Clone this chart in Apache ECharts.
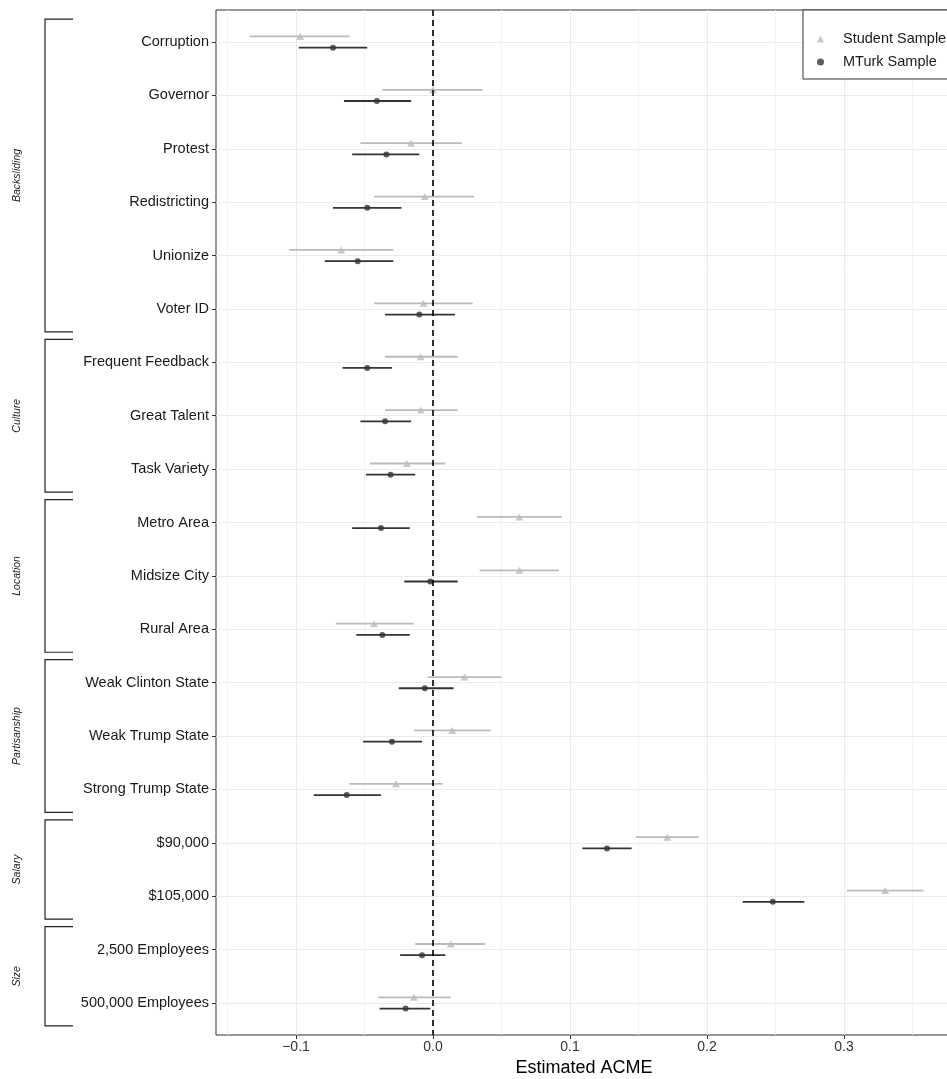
<!DOCTYPE html>
<html>
<head>
<meta charset="utf-8">
<title>Estimated ACME</title>
<script src="https://cdn.jsdelivr.net/npm/echarts@6/dist/echarts.min.js"></script>
<style>
html, body { margin: 0; padding: 0; background: #fff; }
#main { width: 947px; height: 1079px; }
</style>
</head>
<body>
<div id="main"></div>
<script>
// rows, top to bottom
var categories = ['Corruption', 'Governor', 'Protest', 'Redistricting', 'Unionize', 'Voter ID',
	'Frequent Feedback', 'Great Talent', 'Task Variety',
	'Metro Area', 'Midsize City', 'Rural Area',
	'Weak Clinton State', 'Weak Trump State', 'Strong Trump State',
	'$90,000', '$105,000',
	'2,500 Employees', '500,000 Employees'];

// student sample (triangles)
var studentEst = [-0.097, -0.000, -0.016, -0.006, -0.067, -0.007, -0.009, -0.009, -0.019, 0.063, 0.063, -0.043, 0.023, 0.014, -0.027, 0.171, 0.330, 0.013, -0.014];
var studentLo  = [-0.134, -0.037, -0.053, -0.043, -0.105, -0.043, -0.035, -0.035, -0.046, 0.032, 0.034, -0.071, -0.004, -0.014, -0.061, 0.148, 0.302, -0.013, -0.040];
var studentHi  = [-0.061, 0.036, 0.021, 0.030, -0.029, 0.029, 0.018, 0.018, 0.009, 0.094, 0.092, -0.014, 0.050, 0.042, 0.007, 0.194, 0.358, 0.038, 0.013];

// mturk sample (dots)
var mturkEst = [-0.073, -0.041, -0.034, -0.048, -0.055, -0.010, -0.048, -0.035, -0.031, -0.038, -0.002, -0.037, -0.006, -0.030, -0.063, 0.127, 0.248, -0.008, -0.020];
var mturkLo  = [-0.098, -0.065, -0.059, -0.073, -0.079, -0.035, -0.066, -0.053, -0.049, -0.059, -0.021, -0.056, -0.025, -0.051, -0.087, 0.109, 0.226, -0.024, -0.039];
var mturkHi  = [-0.048, -0.016, -0.010, -0.023, -0.029, 0.016, -0.030, -0.016, -0.013, -0.017, 0.018, -0.017, 0.015, -0.008, -0.038, 0.145, 0.271, 0.009, -0.002];

// attribute groups (bracket on the left)
var groupNames = ['Backsliding', 'Culture', 'Location', 'Partisanship', 'Salary', 'Size'];
var groupFirst = [0, 6, 9, 12, 15, 17];
var groupLast  = [5, 8, 11, 14, 16, 18];

var xTicks = [-0.1, 0, 0.1, 0.2, 0.3];
var xMin = -0.1584, xMax = 0.3788;

var fontFam = '"Liberation Sans", Arial, Helvetica, sans-serif';
var studentColor = '#BBBBBB';
var mturkColor = '#333333';
var dodge = 0.105;

var rowIdx = categories.map(function (c, i) { return i; });

var buildCI = function (lo, hi) {
	return rowIdx.map(function (i) { return [i, lo[i], hi[i]]; });
};
var buildPts = function (est, off) {
	return rowIdx.map(function (i) { return [est[i], i + off]; });
};

var ciRender = function (off, color) {
	return function (params, api) {
		var y = api.value(0) + off;
		var p1 = api.coord([api.value(1), y]);
		var p2 = api.coord([api.value(2), y]);
		return {
			type: 'line',
			shape: { x1: p1[0], y1: p1[1], x2: p2[0], y2: p2[1] },
			style: { stroke: color, lineWidth: 1.8 }
		};
	};
};

var chart = echarts.init(document.getElementById('main'));
chart.setOption({
	animation: false,
	backgroundColor: '#fff',
	textStyle: { fontFamily: fontFam },
	grid: {
		left: 216, top: 10, right: -5, bottom: 44,
		show: true, borderColor: '#333', borderWidth: 1,
		containLabel: false, outerBoundsMode: 'none'
	},
	legend: {
		orient: 'vertical', left: 803, top: 10,
		padding: [21, 70, 9, 14],
		backgroundColor: '#fff', borderColor: '#333', borderWidth: 1, borderRadius: 0,
		itemWidth: 7, itemHeight: 7, itemGap: 7,
		textStyle: { fontSize: 14.5, lineHeight: 16, color: '#1a1a1a', fontFamily: fontFam, padding: [0, 0, 0, 14] },
		data: [
			{ name: 'Student Sample', icon: 'triangle', itemStyle: { color: studentColor } },
			{ name: 'MTurk Sample', icon: 'circle', itemStyle: { color: mturkColor } }
		]
	},
	xAxis: {
		type: 'value', min: xMin, max: xMax, minInterval: 0.1, maxInterval: 0.1,
		name: 'Estimated ACME', nameLocation: 'middle', nameGap: 20,
		nameTextStyle: { fontSize: 18, color: '#000', fontFamily: fontFam },
		axisLine: { show: false, onZero: false },
		axisTick: { show: true, length: 4, lineStyle: { color: '#333' }, customValues: xTicks },
		axisLabel: {
			customValues: xTicks, margin: 5, fontSize: 14, color: '#333', fontFamily: fontFam,
			formatter: function (v) { return v.toFixed(1).replace('-', '\u2212'); }
		},
		splitLine: { show: true, lineStyle: { color: '#EBEBEB', width: 1 } },
		minorTick: { show: false, splitNumber: 2 },
		minorSplitLine: { show: true, lineStyle: { color: '#EFEFEF', width: 0.8 } }
	},
	yAxis: {
		type: 'value', inverse: true, min: -0.6, max: categories.length - 0.4,
		minInterval: 1, maxInterval: 1,
		axisLine: { show: false, onZero: false },
		axisTick: { show: true, length: 4, lineStyle: { color: '#333' }, customValues: rowIdx },
		axisLabel: {
			customValues: rowIdx, margin: 7, fontSize: 14.5, color: '#1a1a1a', fontFamily: fontFam,
			formatter: function (v) {
				var r = Math.round(v);
				return Math.abs(v - r) < 1e-6 && categories[r] ? categories[r] : '';
			}
		},
		splitLine: { show: true, lineStyle: { color: '#EBEBEB', width: 1 } }
	},
	series: [
		{
			name: 'Student CI', type: 'custom', silent: true,
			renderItem: ciRender(-dodge, studentColor),
			encode: { x: [1, 2], y: 0 },
			data: buildCI(studentLo, studentHi), z: 2
		},
		{
			name: 'MTurk CI', type: 'custom', silent: true,
			renderItem: ciRender(dodge, mturkColor),
			encode: { x: [1, 2], y: 0 },
			data: buildCI(mturkLo, mturkHi), z: 2
		},
		{
			name: 'Student Sample', type: 'scatter', silent: true,
			symbol: 'triangle', symbolSize: [8, 7],
			itemStyle: { color: studentColor },
			data: buildPts(studentEst, -dodge), z: 3
		},
		{
			name: 'MTurk Sample', type: 'scatter', silent: true,
			symbol: 'circle', symbolSize: 6,
			itemStyle: { color: mturkColor },
			data: buildPts(mturkEst, dodge), z: 3,
			markLine: {
				silent: true, symbol: 'none', label: { show: false },
				lineStyle: { color: '#000', type: [6, 4], width: 1.6 },
				data: [{ xAxis: 0 }]
			}
		}
	]
});

// group brackets, placed with the y scale
var gfx = [];
groupNames.forEach(function (g, k) {
	var top = chart.convertToPixel({ yAxisIndex: 0 }, groupFirst[k] - 0.43);
	var bot = chart.convertToPixel({ yAxisIndex: 0 }, groupLast[k] + 0.43);
	gfx.push({
		type: 'polyline', silent: true,
		shape: { points: [[73, top], [45, top], [45, bot], [73, bot]] },
		style: { stroke: '#222', lineWidth: 1.2, fill: null }
	});
	gfx.push({
		type: 'text', silent: true,
		x: 17, y: (top + bot) / 2, rotation: Math.PI / 2,
		style: {
			text: g, fill: '#1a1a1a', font: 'italic 10.5px ' + fontFam,
			align: 'center', verticalAlign: 'middle'
		}
	});
});
chart.setOption({ graphic: gfx });
</script>
</body>
</html>
